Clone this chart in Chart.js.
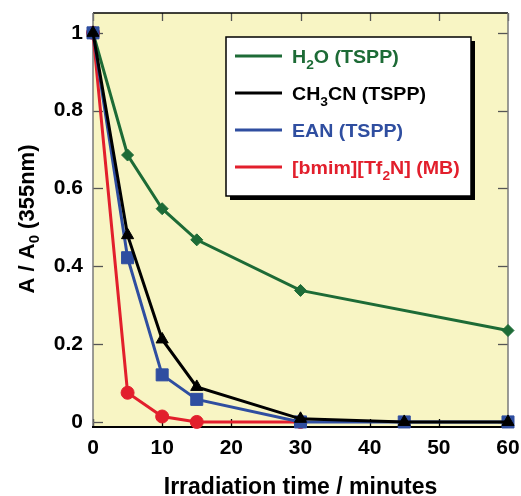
<!DOCTYPE html>
<html>
<head>
<meta charset="utf-8">
<script src="https://cdn.jsdelivr.net/npm/chart.js@4.4.1/dist/chart.umd.min.js"></script>
<style>
  html, body { margin: 0; padding: 0; background: #ffffff; }
  #wrap { width: 521px; height: 496px; position: relative; }
</style>
</head>
<body>
<div id="wrap"><canvas id="c" width="521" height="496"></canvas></div>
<script>
// ---- data ----
const h2oTime   = [0, 5, 10, 15, 30, 60];
const h2oVal    = [1.0, 0.686, 0.548, 0.468, 0.338, 0.235];
const ch3cnTime = [0, 5, 10, 15, 30, 45, 60];
const ch3cnVal  = [1.0, 0.480, 0.212, 0.090, 0.008, 0.0, 0.0];
const eanTime   = [0, 5, 10, 15, 30, 45, 60];
const eanVal    = [1.0, 0.422, 0.121, 0.058, 0.0, 0.0, 0.0];
const mbTime    = [0, 5, 10, 15, 30];
const mbVal     = [1.0, 0.075, 0.014, 0.0, 0.0];

const xTicks = [0, 10, 20, 30, 40, 50, 60];
const xTickLabels = ['0', '10', '20', '30', '40', '50', '60'];
const yTicks = [0, 0.2, 0.4, 0.6, 0.8, 1.0];
const yTickLabels = ['0', '0.2', '0.4', '0.6', '0.8', '1'];

// legend labels: parts with subscripts
const legendLabels = [
  [{t: 'H'}, {t: '2', sub: true}, {t: 'O (TSPP)'}],
  [{t: 'CH'}, {t: '3', sub: true}, {t: 'CN (TSPP)'}],
  [{t: 'EAN (TSPP)'}],
  [{t: '[bmim][Tf'}, {t: '2', sub: true}, {t: 'N] (MB)'}]
];
const xTitle = [{t: 'Irradiation time / minutes'}];
const yTitle = [{t: 'A / A'}, {t: '0', sub: true}, {t: ' (355nm)'}];

const GREEN = '#1d6b36', BLACK = '#000000', BLUE = '#2f4ea0', RED = '#e21f2c';
const FONT = '"Liberation Sans", Arial, Helvetica, sans-serif';

function pts(xs, ys) { return xs.map((x, i) => ({x: x, y: ys[i]})); }

// draws text parts with subscripts starting at (x, baseline y); returns width
function drawParts(ctx, parts, x, y, size, subSize, subDrop, doDraw) {
  let w = 0;
  parts.forEach(p => {
    ctx.font = 'bold ' + (p.sub ? subSize : size) + 'px ' + FONT;
    if (doDraw) ctx.fillText(p.t, x + w, p.sub ? y + subDrop : y);
    w += ctx.measureText(p.t).width;
  });
  return w;
}

const bgPlugin = {
  id: 'bg',
  beforeDraw(chart) {
    const {ctx, chartArea: a} = chart;
    ctx.save();
    ctx.fillStyle = '#f8f5c4';
    ctx.fillRect(a.left, a.top, a.right - a.left, a.bottom - a.top);
    ctx.restore();
  },
  beforeDatasetsDraw(chart) {
    const {ctx, chartArea: a, scales} = chart;
    ctx.save();
    ctx.lineWidth = 1.3;
    const L = 8;
    xTicks.forEach(v => {
      const px = Math.round(scales.x.getPixelForValue(v)) + 0.5;
      ctx.strokeStyle = '#555555';
      ctx.beginPath(); ctx.moveTo(px, a.top); ctx.lineTo(px, a.top + L); ctx.stroke();
      ctx.strokeStyle = '#000';
      ctx.beginPath(); ctx.moveTo(px, a.bottom); ctx.lineTo(px, a.bottom - L); ctx.stroke();
    });
    ctx.strokeStyle = '#555555';
    yTicks.forEach(v => {
      const py = Math.round(scales.y.getPixelForValue(v)) + 0.5;
      ctx.beginPath(); ctx.moveTo(a.left, py); ctx.lineTo(a.left + L + 2, py); ctx.stroke();
      ctx.beginPath(); ctx.moveTo(a.right, py); ctx.lineTo(a.right - L - 2, py); ctx.stroke();
    });
    // frame
    ctx.lineWidth = 1.5;
    ctx.strokeStyle = '#000';
    ctx.beginPath(); ctx.moveTo(a.left, a.top); ctx.lineTo(a.right, a.top); ctx.stroke();
    ctx.strokeStyle = '#7a7a7a';
    ctx.beginPath(); ctx.moveTo(a.right, a.top); ctx.lineTo(a.right, a.bottom); ctx.stroke();
    ctx.beginPath(); ctx.moveTo(a.left, a.top); ctx.lineTo(a.left, a.bottom); ctx.stroke();
    ctx.lineWidth = 2.2;
    ctx.strokeStyle = '#000';
    ctx.beginPath(); ctx.moveTo(a.left - 1, a.bottom); ctx.lineTo(a.right, a.bottom); ctx.stroke();
    ctx.restore();
  },
  afterDraw(chart) {
    const {ctx, chartArea: a} = chart;
    ctx.save();
    ctx.fillStyle = '#000';
    ctx.textBaseline = 'alphabetic';
    ctx.textAlign = 'left';
    // x title
    const cx = (a.left + a.right) / 2;
    const wx = drawParts(ctx, xTitle, 0, 0, 23, 15, 6, false);
    drawParts(ctx, xTitle, cx - wx / 2, 494, 23, 15, 6, true);
    // y title (rotated)
    const cy = 219;
    ctx.translate(34, cy);
    ctx.rotate(-Math.PI / 2);
    const wy = drawParts(ctx, yTitle, 0, 0, 22, 15, 5, false);
    drawParts(ctx, yTitle, -wy / 2, 0, 22, 15, 5, true);
    ctx.restore();
  }
};

const legendPlugin = {
  id: 'customLegend',
  afterDraw(chart) {
    const ctx = chart.ctx;
    const bx = 226, by = 37, bw = 245, bh = 159;
    ctx.save();
    ctx.fillStyle = '#000';
    ctx.fillRect(bx + 4, by + 4, bw, bh);
    ctx.fillStyle = '#fff';
    ctx.fillRect(bx, by, bw, bh);
    ctx.lineWidth = 1.5;
    ctx.strokeStyle = '#000';
    ctx.strokeRect(bx, by, bw, bh);
    const rows = [56, 93, 130, 167];
    const ds = chart.data.datasets;
    ds.forEach((d, i) => {
      const y = rows[i];
      ctx.strokeStyle = d.borderColor;
      ctx.lineWidth = 3;
      ctx.beginPath(); ctx.moveTo(235, y); ctx.lineTo(282, y); ctx.stroke();
      ctx.fillStyle = d.borderColor;
      ctx.lineWidth = 1;
      Chart.helpers.drawPoint(ctx, {pointStyle: d.pointStyle, rotation: 0, borderWidth: 1}, 261, y, d.legendRadius);
      ctx.fillStyle = d.borderColor;
      ctx.textBaseline = 'alphabetic';
      ctx.textAlign = 'left';
      ctx.save();
      ctx.translate(292, y + 7);
      ctx.scale(1.06, 1);
      drawParts(ctx, legendLabels[i], 0, 0, 18.5, 13, 6, true);
      ctx.restore();
    });
    ctx.restore();
  }
};

const common = { borderWidth: 3, showLine: true, clip: false, pointBorderWidth: 1 };

new Chart(document.getElementById('c'), {
  type: 'scatter',
  data: {
    datasets: [
      Object.assign({}, common, { label: 'H2O (TSPP)', data: pts(h2oTime, h2oVal), borderColor: GREEN, backgroundColor: GREEN,
        pointStyle: 'rectRot', pointRadius: 6, legendRadius: 5, order: 3 }),
      Object.assign({}, common, { label: 'CH3CN (TSPP)', data: pts(ch3cnTime, ch3cnVal), borderColor: BLACK, backgroundColor: BLACK,
        pointStyle: 'triangle', pointRadius: 7, legendRadius: 6, order: 0 }),
      Object.assign({}, common, { label: 'EAN (TSPP)', data: pts(eanTime, eanVal), borderColor: BLUE, backgroundColor: BLUE,
        pointStyle: 'rect', pointRadius: 8.5, legendRadius: 8, order: 1 }),
      Object.assign({}, common, { label: '[bmim][Tf2N] (MB)', data: pts(mbTime, mbVal), borderColor: RED, backgroundColor: RED,
        pointStyle: 'circle', pointRadius: 6.5, legendRadius: 6, order: 2 })
    ]
  },
  options: {
    responsive: false,
    animation: false,
    events: [],
    layout: { padding: { top: 13, right: 13, left: 0, bottom: 0 } },
    plugins: { legend: { display: false }, tooltip: { enabled: false } },
    scales: {
      x: {
        type: 'linear', min: 0, max: 60,
        afterBuildTicks(s) { s.ticks = xTicks.map(v => ({value: v})); },
        afterFit(s) { s.height = 69; s.paddingLeft = 0; s.paddingRight = 0; },
        grid: { display: false, drawTicks: false },
        border: { display: false },
        ticks: { color: '#000', font: { family: FONT, size: 21, weight: 'bold' }, padding: 9,
          callback: (v) => xTickLabels[xTicks.indexOf(v)] },
        title: { display: false }
      },
      y: {
        type: 'linear', min: -0.013, max: 1.051,
        afterBuildTicks(s) { s.ticks = yTicks.map(v => ({value: v})); },
        afterFit(s) { s.width = 93; s.paddingTop = 0; s.paddingBottom = 0; },
        grid: { display: false, drawTicks: false },
        border: { display: false },
        ticks: { color: '#000', font: { family: FONT, size: 21, weight: 'bold' }, padding: 10,
          callback: (v) => yTickLabels[yTicks.indexOf(v)] },
        title: { display: false }
      }
    }
  },
  plugins: [bgPlugin, legendPlugin]
});
</script>
</body>
</html>
